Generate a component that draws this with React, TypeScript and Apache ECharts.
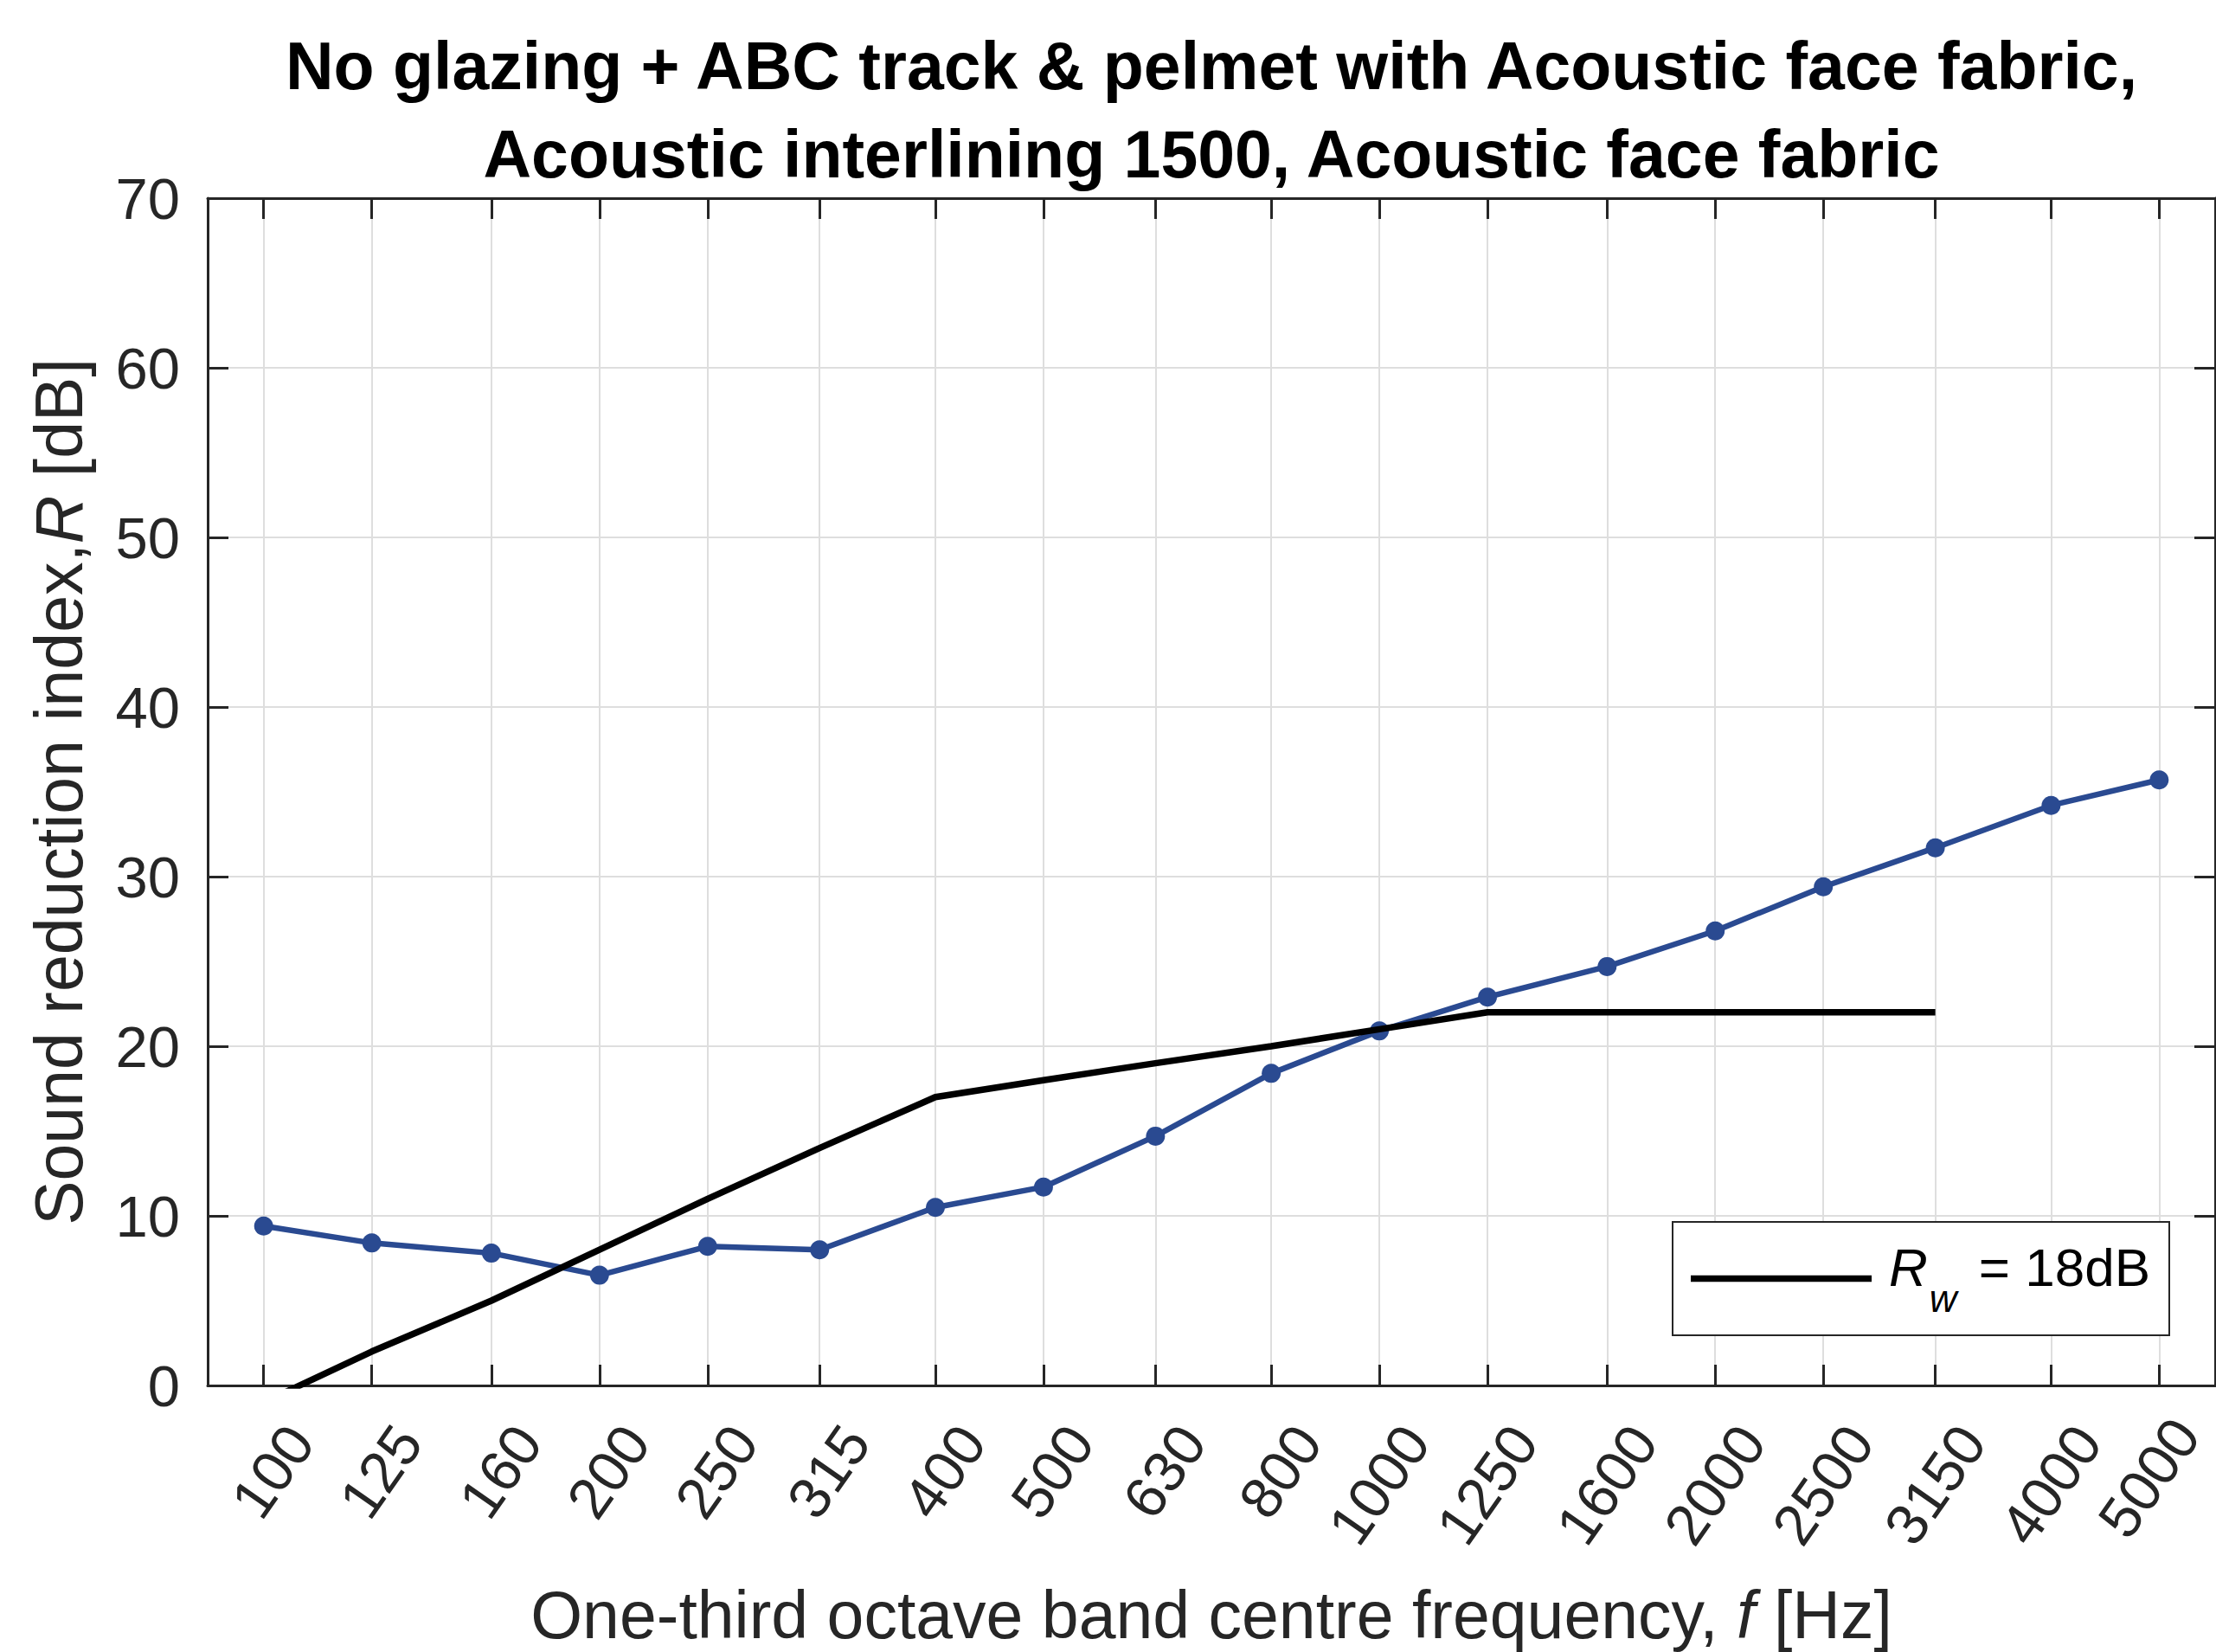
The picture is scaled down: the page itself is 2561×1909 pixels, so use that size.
import React, { useEffect, useRef } from 'react';
import * as echarts from 'echarts';

// One-third octave band centre frequencies [Hz]
const frequencies = [100, 125, 160, 200, 250, 315, 400, 500, 630, 800, 1000, 1250, 1600, 2000, 2500, 3150, 4000, 5000];
// Measured sound reduction index R [dB]
const measuredR = [9.4, 8.4, 7.8, 6.5, 8.2, 8.0, 10.5, 11.7, 14.7, 18.4, 20.9, 22.9, 24.7, 26.8, 29.4, 31.7, 34.2, 35.7];
// Shifted ISO 717-1 reference curve (Rw = 18 dB)
const referenceFreqs = [100, 125, 160, 200, 250, 315, 400, 500, 630, 800, 1000, 1250, 1600, 2000, 2500, 3150];
const referenceR = [-1, 2, 5, 8, 11, 14, 17, 18, 19, 20, 21, 22, 22, 22, 22, 22];
const xLimits = [89.09, 5612];
const yLimits = [0, 70];
const yInterval = 10;

const titleLines = [
  'No glazing + ABC track & pelmet with Acoustic face fabric,',
  'Acoustic interlining 1500, Acoustic face fabric',
];

const FONT = "'Liberation Sans', Arial, Helvetica, sans-serif";
const AX = '#262626';
const GRID = '#dedede';
const BLUE = '#2a4a91';

export default function App() {
  const ref = useRef<HTMLDivElement>(null);
  useEffect(() => {
    if (!ref.current) return;
    const chart = echarts.init(ref.current, undefined, { renderer: 'svg' });
    const axisLineStyle = { color: AX, width: 3 };
    const tickStyle = { color: AX, width: 3 };
    const lastFreq = frequencies[frequencies.length - 1];
    chart.setOption({
      animation: false,
      backgroundColor: '#ffffff',
      textStyle: { fontFamily: FONT },
      title: {
        text: titleLines.join('\n'),
        left: 1400,
        top: 25,
        textAlign: 'center',
        padding: 0,
        textStyle: { fontFamily: FONT, fontSize: 77, fontWeight: 'bold', lineHeight: 102, color: '#000' },
      },
      grid: { left: 240, right: 1, top: 229, bottom: 308 },
      legend: {
        data: [{ name: 'Rw' }],
        left: 1933,
        top: 1412,
        orient: 'horizontal',
        padding: [21, 22, 21, 21],
        icon: 'rect',
        itemWidth: 209,
        itemHeight: 7.5,
        itemStyle: { color: '#000' },
        backgroundColor: '#fff',
        borderColor: AX,
        borderWidth: 2,
        borderRadius: 0,
        selectedMode: false,
        formatter: () => '{i|R}{sub|w}{t| = 18dB}',
        textStyle: {
          fontFamily: FONT,
          fontSize: 62,
          color: '#000',
          rich: {
            i: { fontFamily: FONT, fontStyle: 'italic', fontSize: 62, lineHeight: 89, verticalAlign: 'top', padding: [0, 2, 27, 15], color: '#000' },
            sub: { fontFamily: FONT, fontStyle: 'italic', fontSize: 44, lineHeight: 89, verticalAlign: 'top', padding: [45, 8, 0, 0], color: '#000' },
            t: { fontFamily: FONT, fontSize: 62, lineHeight: 89, verticalAlign: 'top', padding: [0, 0, 27, 0], color: '#000' },
          },
        },
      },
      xAxis: [
        {
          type: 'log',
          logBase: 10,
          min: xLimits[0],
          max: xLimits[1],
          position: 'bottom',
          axisLine: { show: true, onZero: false, lineStyle: axisLineStyle },
          axisTick: { show: true, inside: true, length: 24, customValues: frequencies, lineStyle: tickStyle },
          axisLabel: {
            show: true,
            customValues: frequencies,
            rotate: 55,
            fontFamily: FONT,
            fontSize: 67,
            lineHeight: 44,
            color: AX,
            margin: 24,
            align: 'right',
            verticalAlign: 'top',
            formatter: (v: number) => {
              const s = String(Math.round(v));
              return Math.round(v) >= lastFreq ? `{e|${s}}` : `{n|${s}}`;
            },
            rich: {
              n: { fontFamily: FONT, fontSize: 67, lineHeight: 44, color: AX, verticalAlign: 'top', padding: [18, 0, 0, 0] },
              e: { fontFamily: FONT, fontSize: 67, lineHeight: 44, color: AX, verticalAlign: 'top', padding: [4, 0, 0, 0] },
            },
          },
          splitLine: { show: true, lineStyle: { color: GRID, width: 2 } },
          minorTick: { show: false },
          minorSplitLine: { show: false },
          name: 'One-third octave band centre frequency, {i|f} [Hz]',
          nameLocation: 'middle',
          nameGap: 226,
          nameTextStyle: {
            fontFamily: FONT,
            fontSize: 77,
            color: AX,
            rich: { i: { fontFamily: FONT, fontStyle: 'italic', fontSize: 77, color: AX } },
          },
        },
        {
          type: 'log',
          logBase: 10,
          min: xLimits[0],
          max: xLimits[1],
          position: 'top',
          axisLine: { show: true, onZero: false, lineStyle: axisLineStyle },
          axisTick: { show: true, inside: true, length: 24, customValues: frequencies, lineStyle: tickStyle },
          axisLabel: { show: false },
          splitLine: { show: false },
          minorTick: { show: false },
        },
      ],
      yAxis: [
        {
          type: 'value',
          min: yLimits[0],
          max: yLimits[1],
          interval: yInterval,
          position: 'left',
          axisLine: { show: true, onZero: false, lineStyle: axisLineStyle },
          axisTick: { show: true, inside: true, length: 24, lineStyle: tickStyle },
          axisLabel: { fontFamily: FONT, fontSize: 67, color: AX, margin: 32 },
          splitLine: { show: true, lineStyle: { color: GRID, width: 2 } },
          name: 'Sound reduction index,{i|R} [dB]',
          nameLocation: 'middle',
          nameGap: 134,
          nameRotate: 90,
          nameTextStyle: {
            fontFamily: FONT,
            fontSize: 77,
            color: AX,
            rich: { i: { fontFamily: FONT, fontStyle: 'italic', fontSize: 77, color: AX } },
          },
        },
        {
          type: 'value',
          min: yLimits[0],
          max: yLimits[1],
          interval: yInterval,
          position: 'right',
          axisLine: { show: true, onZero: false, lineStyle: axisLineStyle },
          axisTick: { show: true, inside: true, length: 24, lineStyle: tickStyle },
          axisLabel: { show: false },
          splitLine: { show: false },
        },
      ],
      series: [
        {
          type: 'line',
          name: 'Measured',
          xAxisIndex: 0,
          yAxisIndex: 0,
          data: frequencies.map((f, i) => [f, measuredR[i]]),
          symbol: 'circle',
          symbolSize: 22,
          showSymbol: true,
          lineStyle: { color: BLUE, width: 6.5 },
          itemStyle: { color: BLUE },
          z: 3,
        },
        {
          type: 'line',
          name: 'Rw',
          xAxisIndex: 0,
          yAxisIndex: 0,
          data: referenceFreqs.map((f, i) => [f, referenceR[i]]),
          symbol: 'none',
          showSymbol: false,
          clip: true,
          lineStyle: { color: '#000', width: 7.5 },
          itemStyle: { color: '#000' },
          z: 4,
        },
      ],
    });
    return () => chart.dispose();
  }, []);
  return (
    <div
      ref={ref}
      style={{ position: 'fixed', left: 0, top: 0, width: '2561px', height: '1909px', background: '#fff' }}
    />
  );
}
